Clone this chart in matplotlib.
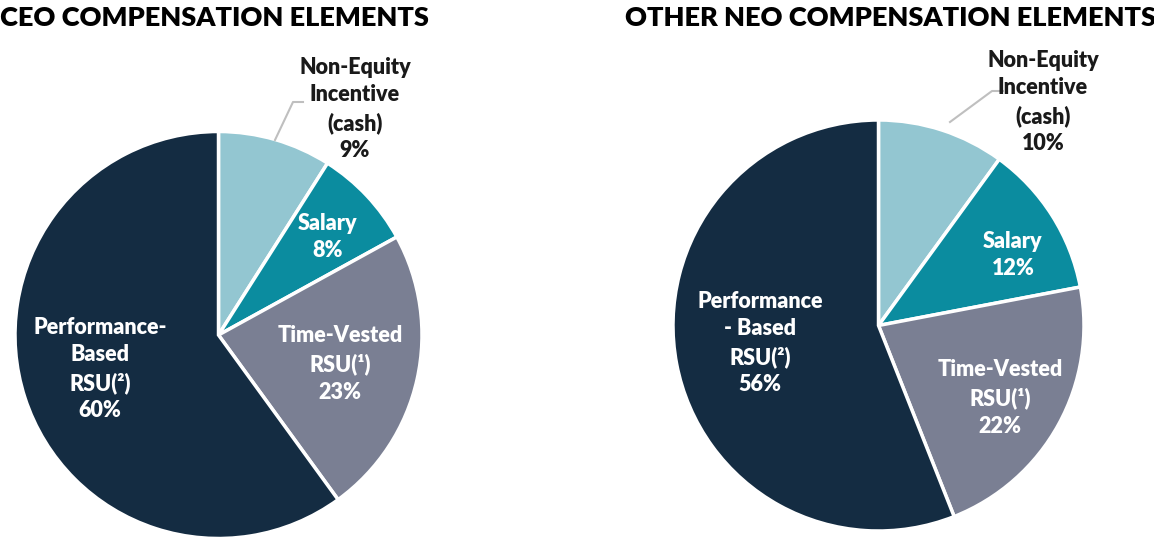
import matplotlib
matplotlib.use("Agg")
import matplotlib.pyplot as plt

W, H = 1154, 544
plt.rcParams['font.family'] = ['Lato', 'DejaVu Sans']
plt.rcParams['font.weight'] = 'bold'

categories = ["Non-Equity\nIncentive\n(cash)", "Salary", "Time-Vested\nRSU(¹)", "Performance-\nBased\nRSU(²)"]
categories_neo = ["Non-Equity\nIncentive\n(cash)", "Salary", "Time-Vested\nRSU(¹)", "Performance\n- Based\nRSU(²)"]
ceo_values = [9, 8, 23, 60]
neo_values = [10, 12, 22, 56]
colors = ["#93C6D1", "#0B8C9F", "#7A7F93", "#142C42"]
text_colors = ["#1a1a1a", "white", "white", "white"]

fig = plt.figure(figsize=(W / 100, H / 100), dpi=100)


def make_pie(cx, cy, r, values, labels, label_px, leader_px, title, title_x):
    ax = fig.add_axes([(cx - r) / W, (H - cy - r) / H, 2 * r / W, 2 * r / H])
    ax.pie(values, colors=colors, startangle=90, counterclock=False, radius=1,
           wedgeprops=dict(edgecolor="white", linewidth=2.5))
    ax.set_xlim(-1, 1)
    ax.set_ylim(-1, 1)
    ax.set_aspect('auto')
    ax.axis('off')

    def to_d(px, py):
        return (px - cx) / r, (cy - py) / r

    for lab, v, (px, py), tc in zip(labels, values, label_px, text_colors):
        x, y = to_d(px, py)
        ax.text(x, y, f"{lab}\n{v}%", ha='center', va='center', color=tc,
                fontsize=15.5, fontweight='heavy', linespacing=1.38, clip_on=False)
    xs, ys = zip(*[to_d(px, py) for px, py in leader_px])
    ax.plot(xs, ys, color="#BFBFBF", linewidth=1.5, clip_on=False)
    fig.text(title_x / W, 1 - 18 / H, title, ha='left', va='center',
             fontsize=19.5, fontweight='heavy', color='black')


make_pie(218.5, 335, 203.5, ceo_values, categories,
         [(355, 109), (328, 237), (340, 364), (100, 369)],
         [(275, 140), (293, 102), (303, 102)],
         "CEO COMPENSATION ELEMENTS", 0)
make_pie(878.5, 325.5, 205.5, neo_values, categories_neo,
         [(1043, 102), (1013, 255), (1000, 398), (760, 343)],
         [(950, 122), (992, 91), (1003, 91)],
         "OTHER NEO COMPENSATION ELEMENTS", 625)

fig.savefig("out.png", dpi=100)
